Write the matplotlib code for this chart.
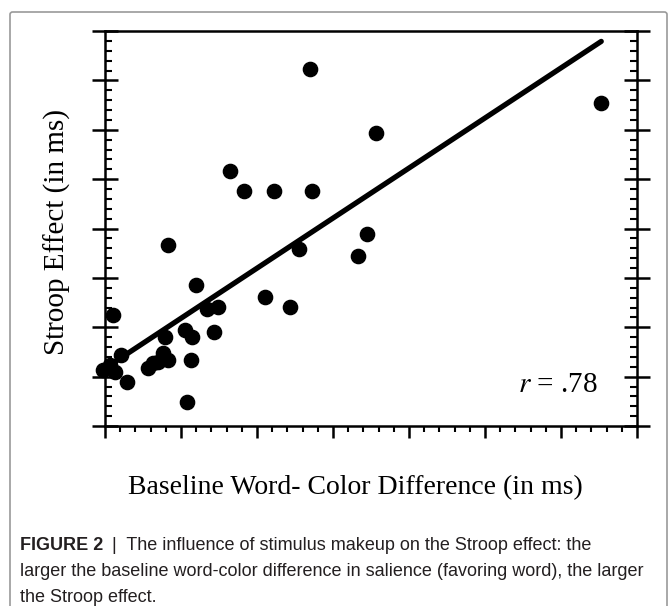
import matplotlib.pyplot as plt
from matplotlib.ticker import MultipleLocator, NullFormatter
from matplotlib.patches import FancyBboxPatch

# baseline word-color difference (x) vs Stroop effect (y), axis units
base_diff = [2.70, 6.53, 3.57, 1.64, 1.83, 2.22, 2.72, 0.83, 3.45, 3.33, 2.55,
             0.11, 1.20, 2.11, 2.43, 1.34, 1.49, 1.05, 1.14, 1.43, 0.79, 0.76,
             0.83, 0.70, 0.57, 0.63, 1.13, 1.08, -0.02, 0.07, 0.13, 0.21, 0.29]
stroop = [7.23, 6.54, 5.93, 5.16, 4.76, 4.76, 4.76, 3.66, 3.89, 3.44, 3.58,
          2.25, 2.85, 2.61, 2.41, 2.37, 2.41, 1.94, 1.80, 1.90, 1.80, 1.48,
          1.34, 1.30, 1.17, 1.28, 1.34, 0.49, 1.13, 1.23, 1.09, 1.44, 0.89]
fit_x = [0.13, 6.53]
fit_y = [1.30, 7.79]

fig = plt.figure(figsize=(6.7, 6.06), dpi=100)

# light grey frame round the figure panel (bottom edge runs off the picture)
frame = FancyBboxPatch((10 / 670, -0.05), 657 / 670, 594 / 606 + 0.05,
                       transform=fig.transFigure,
                       boxstyle="round,pad=0,rounding_size=0.004", fill=False,
                       edgecolor="#9a9a9a", linewidth=1.2)
fig.patches.append(frame)

ax = fig.add_axes([0.1567, 0.297, 0.794, 0.6518])
ax.scatter(base_diff, stroop, s=105, color="black", zorder=3, clip_on=False)
ax.plot(fit_x, fit_y, color="black", linewidth=3.8, solid_capstyle="round", zorder=2)

ax.set_xlim(0, 7)
ax.set_ylim(0, 8)
ax.xaxis.set_major_locator(MultipleLocator(1))
ax.xaxis.set_minor_locator(MultipleLocator(0.2))
ax.yaxis.set_major_locator(MultipleLocator(1))
ax.yaxis.set_minor_locator(MultipleLocator(0.2))
ax.xaxis.set_major_formatter(NullFormatter())
ax.yaxis.set_major_formatter(NullFormatter())

for side in ax.spines.values():
    side.set_linewidth(1.8)

ax.tick_params(axis="y", which="major", direction="inout", length=18.7, width=1.8,
               left=True, right=True)
ax.tick_params(axis="y", which="minor", direction="in", length=5, width=1.5,
               left=True, right=True)
ax.tick_params(axis="x", which="major", direction="out", length=8.6, width=1.8,
               top=False, bottom=True)
ax.tick_params(axis="x", which="minor", direction="out", length=4.3, width=1.5,
               top=False, bottom=True)

serif = ["Liberation Serif", "DejaVu Serif"]
ax.text(5.96, 0.83, r"$r$ = .78", family=serif, fontsize=21, ha="center", va="center",
        math_fontfamily="stix")
fig.text(355 / 670, 1 - 488 / 606, "Baseline Word- Color Difference (in ms)", family=serif,
         fontsize=20, ha="center", va="center")
fig.text(57 / 670, 1 - 232 / 606, "Stroop Effect (in ms)", family=serif, fontsize=21,
         rotation=90, ha="center", va="center")

sans = ["Liberation Sans", "DejaVu Sans"]
cap_col = "#231f20"
cap_size = 13
y1 = 1 - 545 / 606
head = fig.text(20 / 670, y1, "FIGURE 2", family=sans, fontsize=cap_size, weight="bold",
                color=cap_col, va="center")
renderer = fig.canvas.get_renderer()
hb = head.get_window_extent(renderer)
fig.text((hb.x1 + 9) / 670, y1,
         "|  The influence of stimulus makeup on the Stroop effect: the",
         family=sans, fontsize=cap_size, color=cap_col, va="center")
fig.text(20 / 670, 1 - 571 / 606,
         "larger the baseline word-color difference in salience (favoring word), the larger",
         family=sans, fontsize=cap_size, color=cap_col, va="center")
fig.text(20 / 670, 1 - 597 / 606, "the Stroop effect.", family=sans, fontsize=cap_size,
         color=cap_col, va="center")

fig.savefig("out.png", dpi=100)
plt.close(fig)
